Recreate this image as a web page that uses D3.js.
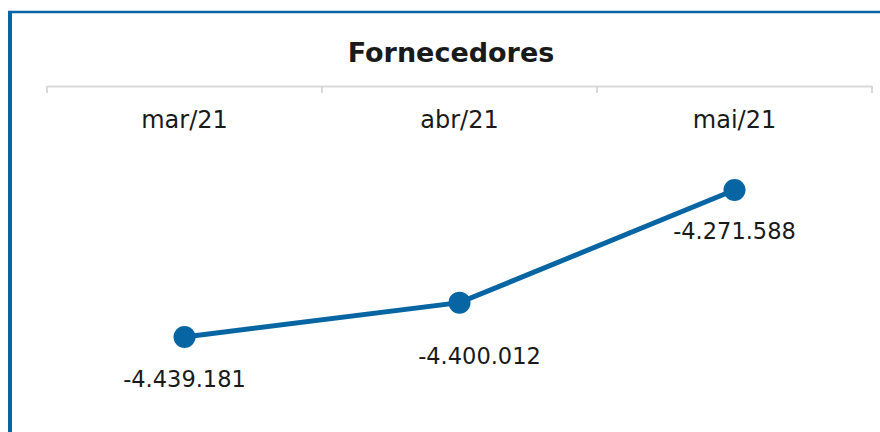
<!DOCTYPE html>
<html>
<head>
<meta charset="utf-8">
<script src="https://cdn.jsdelivr.net/npm/d3@7"></script>
<style>
  body { margin: 0; background: #fff; }
  text { font-family: "DejaVu Sans", sans-serif; fill: #1a1a1a; }
</style>
</head>
<body>
<svg id="chart" width="880" height="432"></svg>
<script>
const months = ["mar/21", "abr/21", "mai/21"];
const values = [-4439181, -4400012, -4271588];
const valueLabels = ["-4.439.181", "-4.400.012", "-4.271.588"];

const svg = d3.select("#chart");
const blue = "#0865a3";

// frame (top and left edges)
svg.append("line").attr("x1", 8).attr("x2", 880).attr("y1", 12).attr("y2", 12)
  .attr("stroke", blue).attr("stroke-width", 2.5);
svg.append("line").attr("x1", 10).attr("x2", 10).attr("y1", 11).attr("y2", 432)
  .attr("stroke", blue).attr("stroke-width", 4);

svg.append("text")
  .attr("x", 451).attr("y", 62)
  .attr("text-anchor", "middle")
  .style("font-weight", "bold")
  .style("font-size", "27px")
  .text("Fornecedores");

const xScale = d3.scaleBand().domain(months).range([47, 872]).padding(0);
const yScale = d3.scaleLinear().domain(d3.extent(values)).range([337, 190]);

// top category axis
const xAxis = d3.axisTop(xScale).tickSize(0).tickFormat("");
const axisG = svg.append("g").attr("transform", "translate(0,86)").call(xAxis);
axisG.select(".domain").attr("stroke", "#d9d9d9").attr("stroke-width", 2);
const edges = [47].concat(months.map((m) => xScale(m) + xScale.bandwidth()));
axisG.selectAll(".edge")
  .data(edges)
  .join("line")
  .attr("x1", (d) => d).attr("x2", (d) => d)
  .attr("y1", 0).attr("y2", 7)
  .attr("stroke", "#d9d9d9").attr("stroke-width", 2);

svg.selectAll(".cat")
  .data(months)
  .join("text")
  .attr("class", "cat")
  .attr("x", (d) => xScale(d) + xScale.bandwidth() / 2)
  .attr("y", 128)
  .attr("text-anchor", "middle")
  .style("font-size", "24px")
  .text((d) => d);

const cx = (i) => xScale(months[i]) + xScale.bandwidth() / 2;

const line = d3.line()
  .x((d, i) => cx(i))
  .y((d) => yScale(d));

svg.append("path")
  .datum(values)
  .attr("d", line)
  .attr("fill", "none")
  .attr("stroke", blue)
  .attr("stroke-width", 5);

svg.selectAll(".pt")
  .data(values)
  .join("circle")
  .attr("class", "pt")
  .attr("cx", (d, i) => cx(i))
  .attr("cy", (d) => yScale(d))
  .attr("r", 11)
  .attr("fill", blue);

// Excel labels were nudged by hand; second one sits lower/right
const labelDx = [0, 20, 0];
const labelDy = [50, 61, 49];
svg.selectAll(".val")
  .data(values)
  .join("text")
  .attr("class", "val")
  .attr("x", (d, i) => cx(i) + labelDx[i])
  .attr("y", (d, i) => yScale(d) + labelDy[i])
  .attr("text-anchor", "middle")
  .style("font-size", "22.5px")
  .text((d, i) => valueLabels[i]);
</script>
</body>
</html>
